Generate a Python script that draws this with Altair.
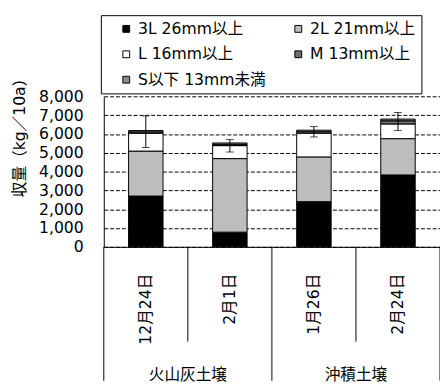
import altair as alt
import pandas as pd

# ---- data ----
dates = ["12月24日", "2月1日", "1月26日", "2月24日"]
groups = ["火山灰土壌", "火山灰土壌", "沖積土壌", "沖積土壌"]
sizes = ["3L 26mm以上", "2L 21mm以上", "L 16mm以上", "M 13mm以上", "S以下 13mm未満"]
v3L = [2700, 780, 2400, 3820]
v2L = [2390, 3910, 2380, 1930]
vL = [950, 690, 1260, 780]
vM = [70, 70, 80, 170]
vS = [70, 70, 80, 90]
err_low = [5280, 5040, 5840, 6180]
err_high = [6960, 5700, 6390, 7140]
y_ticks = [0, 1000, 2000, 3000, 4000, 5000, 6000, 7000, 8000]

colors = ["#000000", "#bdbdbd", "#ffffff", "#6e6e6e", "#8c8c8c"]
FONT = "DejaVu Sans, Noto Sans CJK JP"
W, H = 344, 154

rows = []
for i, d in enumerate(dates):
    for k, (s, vals) in enumerate(zip(sizes, [v3L, v2L, vL, vM, vS])):
        rows.append({"date": d, "size": s, "value": vals[i], "idx": k})
df = pd.DataFrame(rows)
df_err = pd.DataFrame({"date": dates, "lo": err_low, "hi": err_high})

group_start = [d for i, d in enumerate(dates) if i == 0 or groups[i] != groups[i - 1]]
inner = [d for d in dates if d not in group_start]
df_long = pd.DataFrame({"date": group_start})
df_short = pd.DataFrame({"date": inner})
df_end = pd.DataFrame({"date": [dates[-1]]})
df_grp = pd.DataFrame({"date": group_start, "group": [groups[dates.index(d)] for d in group_start]})

# legend is laid out column by column: reorder so rows read 3L,2L / L,M / S
n_rows = 3
leg_order = [sizes[r * 2 + c] for c in range(2) for r in range(n_rows) if r * 2 + c < len(sizes)]
leg_colors = [colors[sizes.index(s)] for s in leg_order]

xscale = alt.Scale(domain=dates, paddingInner=0, paddingOuter=0)
yscale = alt.Scale(domain=[0, 8000], nice=False)

bars = alt.Chart(df).mark_bar(
    width=alt.RelativeBandSize(0.41), stroke="black", strokeWidth=1
).encode(
    x=alt.X("date:N", scale=xscale, sort=dates, title=None),
    y=alt.Y("value:Q", stack="zero", scale=yscale, title="収量（kg／10a）",
            axis=alt.Axis(values=y_ticks, format=",d")),
    color=alt.Color("size:N", scale=alt.Scale(domain=leg_order, range=leg_colors),
                    legend=alt.Legend(title=None, orient="none", legendX=-3, legendY=-83,
                                      columns=2, columnPadding=13, rowPadding=10,
                                      symbolType="square", symbolSize=49, symbolOffset=12,
                                      symbolStrokeColor="black", symbolStrokeWidth=1,
                                      labelFontSize=16, labelColor="black", labelOffset=4,
                                      padding=6, strokeColor="black", fillColor="white",
                                      cornerRadius=0)),
    order=alt.Order("idx:Q"),
)

err_rule = alt.Chart(df_err).mark_rule(color="black", strokeWidth=1).encode(
    x=alt.X("date:N", sort=dates, axis=None), y=alt.Y("lo:Q", axis=None), y2="hi:Q")
err_lo = alt.Chart(df_err).mark_tick(color="black", size=8, thickness=1).encode(
    x=alt.X("date:N", sort=dates, axis=None), y=alt.Y("lo:Q", axis=None))
err_hi = alt.Chart(df_err).mark_tick(color="black", size=8, thickness=1).encode(
    x=alt.X("date:N", sort=dates, axis=None), y=alt.Y("hi:Q", axis=None))

sep_long = alt.Chart(df_long).mark_rule(color="black", strokeWidth=1).encode(
    x=alt.X("date:N", sort=dates, bandPosition=0, axis=None),
    y=alt.value(H), y2=alt.value(H + 137))
sep_short = alt.Chart(df_short).mark_rule(color="black", strokeWidth=1).encode(
    x=alt.X("date:N", sort=dates, bandPosition=0, axis=None),
    y=alt.value(H), y2=alt.value(H + 97))
sep_end = alt.Chart(df_end).mark_rule(color="black", strokeWidth=1).encode(
    x=alt.X("date:N", sort=dates, bandPosition=1, axis=None),
    y=alt.value(H), y2=alt.value(H + 137))
grp_text = alt.Chart(df_grp).mark_text(fontSize=16, color="black", baseline="middle").encode(
    x=alt.X("date:N", sort=dates, bandPosition=1, axis=None),
    y=alt.value(H + 131), text="group:N")

chart = alt.layer(
    bars, err_rule, err_lo, err_hi, sep_long, sep_short, sep_end, grp_text
).resolve_axis(x="independent", y="independent").properties(
    width=W, height=H, autosize="none",
    padding={"left": 98, "top": 86, "right": 0, "bottom": 137},
).configure(font=FONT).configure_view(strokeWidth=0).configure_axis(
    domain=True, domainColor="black", domainWidth=1, ticks=False,
    labelColor="black", labelOverlap=False,
    titleFontSize=16, titleFontWeight="normal", titleColor="black",
).configure_axisY(
    grid=True, gridDash=[4, 2], gridColor="black", gridWidth=1, gridOpacity=1,
    labelFontSize=16, labelPadding=21, titleAngle=270, titleX=-86, titleY=38,
    titleAlign="center", titleBaseline="middle",
).configure_axisX(
    grid=False, labelFontSize=16, labelAngle=270, labelPadding=27,
    labelAlign="right", labelBaseline="middle",
)

chart.save("out.html", embed_options={"renderer": "svg", "actions": False})
